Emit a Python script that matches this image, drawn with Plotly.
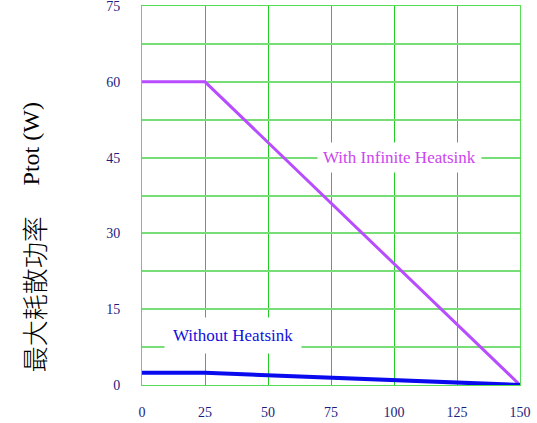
import plotly.graph_objects as go

temp = [0, 25, 150]
p_infinite = [60, 60, 0]
p_without = [2.4, 2.4, 0]
x_ticks = [0, 25, 50, 75, 100, 125, 150]
y_grid = [0, 7.5, 15, 22.5, 30, 37.5, 45, 52.5, 60, 67.5, 75]
y_labels = ["0", "", "15", "", "30", "", "45", "", "60", "", "75"]

fig = go.Figure()
fig.add_trace(go.Scatter(x=temp, y=p_infinite, mode="lines",
                         line=dict(color="#b84dff", width=3), showlegend=False))
fig.add_trace(go.Scatter(x=temp, y=p_without, mode="lines",
                         line=dict(color="#0a0aee", width=4), showlegend=False))

serif = "'Liberation Serif', 'Times New Roman', serif"
tick_color = "#1c1c80"

fig.update_xaxes(range=[0, 150], tickvals=x_ticks, ticks="", showgrid=True,
                 gridcolor="#22cc22", gridwidth=1, zeroline=False, automargin=False,
                 showline=True, linecolor="#55dd55", mirror=True,
                 tickfont=dict(family=serif, size=14, color=tick_color),
                 ticklabelstandoff=14, ticklabeloverflow="allow")
fig.update_yaxes(range=[0, 75], tickvals=y_grid, ticktext=y_labels, ticks="", showgrid=True,
                 gridcolor="#77dd77", gridwidth=1.6, zeroline=False, automargin=False,
                 showline=True, linecolor="#55dd55", mirror=True,
                 tickfont=dict(family=serif, size=14, color=tick_color),
                 ticklabelstandoff=18, ticklabeloverflow="allow")

fig.add_annotation(x=102, y=45, text="With Infinite Heatsink", showarrow=False,
                   font=dict(family=serif, size=17, color="#cc44ee"),
                   bgcolor="white", borderpad=5)
fig.add_annotation(x=36, y=9.7, text="Without Heatsink", showarrow=False,
                   font=dict(family=serif, size=17, color="#1010dd"),
                   bgcolor="white", borderpad=8)

fig.add_annotation(xref="paper", yref="paper", x=-0.288, y=0.24,
                   xanchor="center", yanchor="middle",
                   text="最大耗散功率", textangle=-90, showarrow=False,
                   font=dict(family="Noto Sans CJK SC", size=26, weight=300, color="black"))
fig.add_annotation(xref="paper", yref="paper", x=-0.295, y=0.636,
                   xanchor="center", yanchor="middle",
                   text="Ptot (W)", textangle=-90, showarrow=False,
                   font=dict(family=serif, size=24, color="black"))

fig.update_layout(width=537, height=423, margin=dict(l=142, r=17, t=6, b=38),
                  plot_bgcolor="white", paper_bgcolor="white")

fig.write_html("out.html", config={"displayModeBar": False},
               post_script="document.body.style.margin='0';")
